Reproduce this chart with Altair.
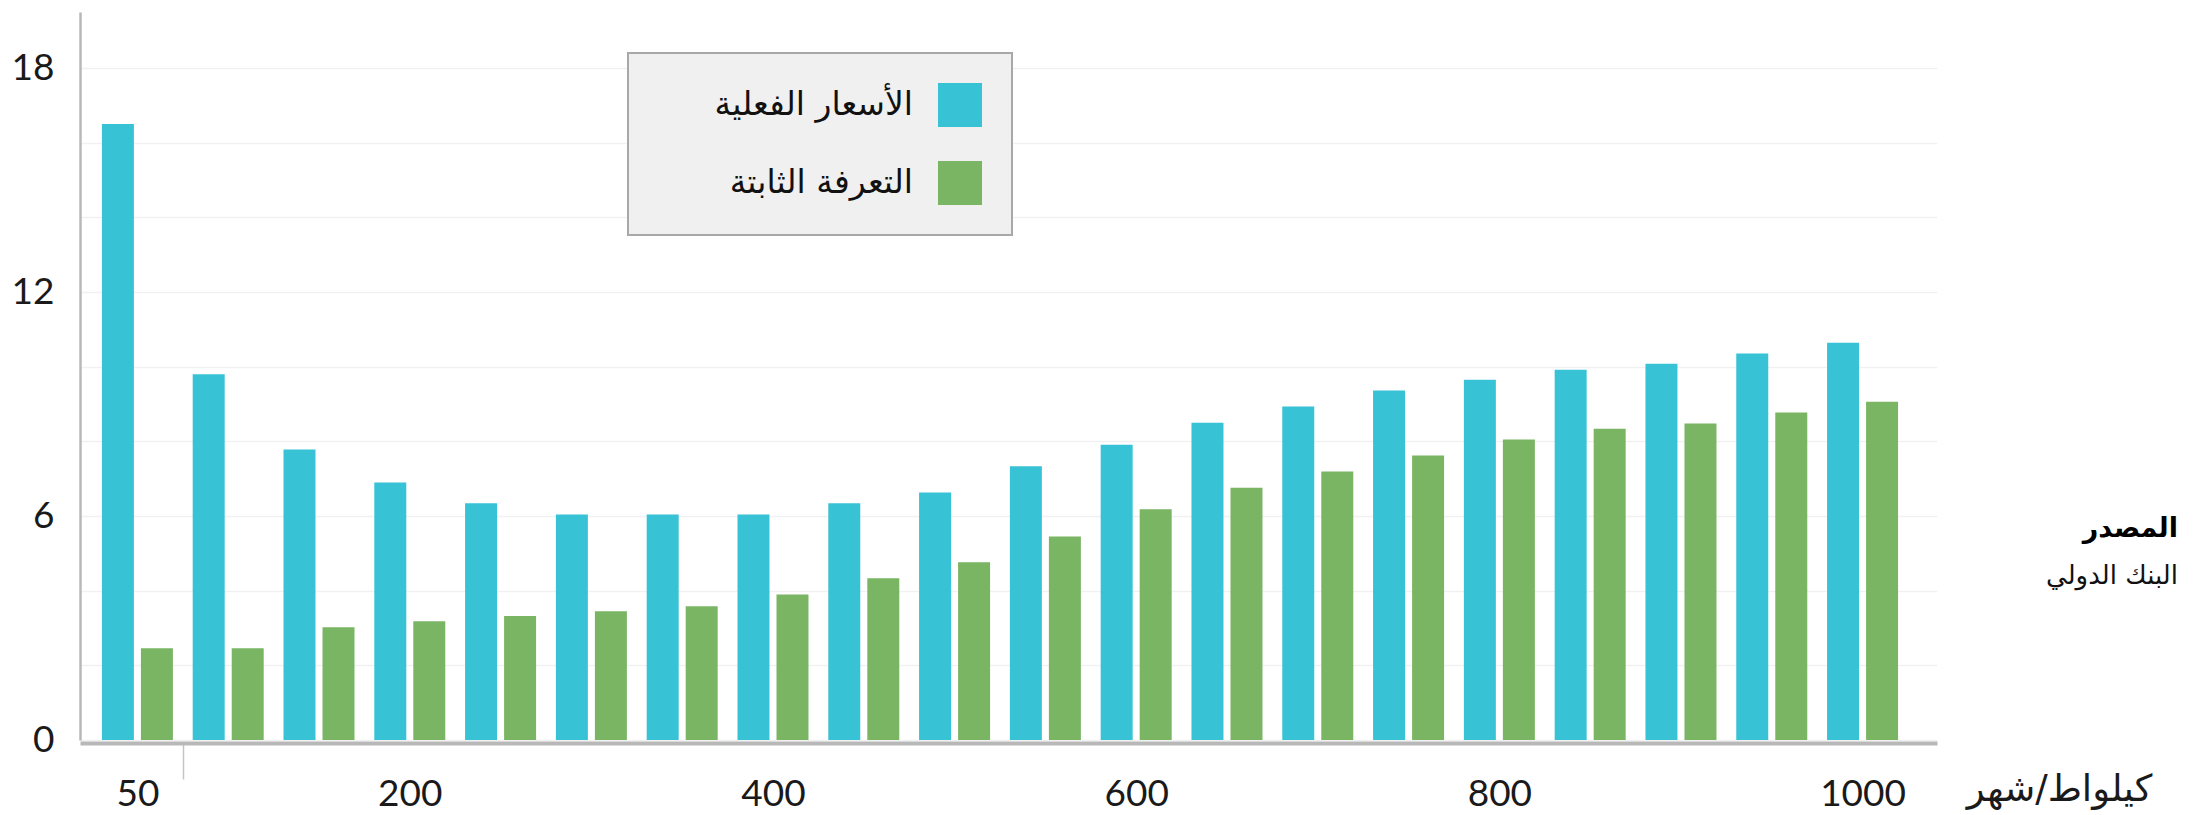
import json
import altair as alt
import pandas as pd

# ---- data ----
kwh = [50, 100, 150, 200, 250, 300, 350, 400, 450, 500,
       550, 600, 650, 700, 750, 800, 850, 900, 950, 1000]
actual_prices = [16.5, 9.8, 7.78, 6.9, 6.34, 6.04, 6.04, 6.04, 6.34, 6.63,
                 7.33, 7.91, 8.5, 8.93, 9.36, 9.65, 9.92, 10.08, 10.35, 10.64]
fixed_tariff = [2.46, 2.46, 3.02, 3.18, 3.32, 3.45, 3.58, 3.9, 4.33, 4.76,
                5.45, 6.18, 6.76, 7.19, 7.62, 8.05, 8.34, 8.48, 8.77, 9.06]
series_names = ["الأسعار الفعلية", "التعرفة الثابتة"]
series_colors = ["#37c2d6", "#79b563"]
x_label_values = [50, 200, 400, 600, 800, 1000]
y_grid_values = [0, 2, 4, 6, 8, 10, 12, 14, 16, 18]
y_label_values = [0, 6, 12, 18]
x_title = "كيلواط/شهر"
source_title = "المصدر"
source_name = "البنك الدولي"

rows = []
for k, a, f in zip(kwh, actual_prices, fixed_tariff):
    rows.append({"kwh": k, "series": series_names[0], "value": a})
    rows.append({"kwh": k, "series": series_names[1], "value": f})
df = pd.DataFrame(rows)

W, H = 1857, 728
P_IN, P_OUT = 0.218, 0.335
STEP = W / (len(kwh) - P_IN + 2 * P_OUT)
HALF = STEP / 2

x_test = "indexof(%s, datum.value) >= 0" % json.dumps(x_label_values)
y_test = "indexof(%s, datum.value) >= 0" % json.dumps(y_label_values)

chart = alt.Chart(df).mark_bar().encode(
    x=alt.X(
        "kwh:O",
        scale=alt.Scale(paddingInner=P_IN, paddingOuter=P_OUT, align=0.36),
        axis=alt.Axis(
            title=x_title,
            labelExpr=f"{x_test} ? datum.label : ''",
            labelAngle=0,
            labelFont="Lato",
            labelFontSize=37,
            labelColor="#1a1a1a",
            labelPadding=-3,
            labelOverlap=False,
            labelBound=False,
            tickSize=36,
            tickColor="#c4c4c4",
            tickWidth=1.5,
            tickOffset=HALF,
            labelOffset=-HALF,
            tickOpacity={"condition": {"test": "datum.value == 50", "value": 1}, "value": 0},
            domainColor="#b8b8b8",
            domainWidth=4,
            offset=3,
            grid=False,
            titleFont="DejaVu Sans",
            titleFontSize=37,
            titleFontWeight="normal",
            titleColor="#1a1a1a",
            titleX=1979,
            titleY=57,
            titleAlign="center",
            titleBaseline="alphabetic",
        ),
    ),
    xOffset=alt.XOffset(
        "series:N",
        sort=series_names,
        scale=alt.Scale(domain=series_names, paddingInner=0.18, paddingOuter=0),
    ),
    y=alt.Y(
        "value:Q",
        scale=alt.Scale(domain=[0, 19.5], nice=False),
        axis=alt.Axis(
            title=None,
            values=y_grid_values,
            labelExpr=f"{y_test} ? datum.label : ''",
            ticks=False,
            tickSize=0,
            labelFont="Lato",
            labelFontSize=37,
            labelColor="#1a1a1a",
            labelPadding=26,
            gridColor="#f1f1f1",
            gridWidth=1.5,
            domainColor="#b8b8b8",
            domainWidth=2.5,
        ),
    ),
    color=alt.Color(
        "series:N",
        sort=series_names,
        scale=alt.Scale(domain=series_names, range=series_colors),
        legend=alt.Legend(
            title=None,
            orient="none",
            legendX=548,
            legendY=41,
            direction="vertical",
            symbolType="square",
            symbolSize=1936,
            symbolStrokeWidth=0,
            symbolOpacity=1,
            symbolOffset=280,
            labelOffset={"expr": "-69"},
            labelAlign="right",
            labelFont="DejaVu Sans",
            labelFontSize=33,
            labelColor="#111111",
            labelLimit=600,
            rowPadding=34,
            padding=30,
            fillColor="#f0f0f0",
            strokeColor="#a8a8a8",
        ),
    ),
).properties(
    width=W,
    height=H,
    background="white",
    autosize=alt.AutoSizeParams(type="none"),
    padding={"left": 72, "top": 4, "right": 256, "bottom": 74},
    title=alt.TitleParams(
        text=source_title,
        subtitle=source_name,
        anchor="end",
        frame="group",
        orient="top",
        align="right",
        dx=241,
        dy=582,
        font="DejaVu Sans",
        fontSize=27,
        fontWeight="bold",
        color="#000000",
        subtitleFont="DejaVu Sans",
        subtitleFontSize=26,
        subtitleColor="#111111",
        subtitlePadding=20,
    ),
).configure_view(strokeOpacity=0, strokeWidth=0).configure_legend(strokeWidth=2)

chart.save("out.html", embed_options={"renderer": "svg", "actions": False})
